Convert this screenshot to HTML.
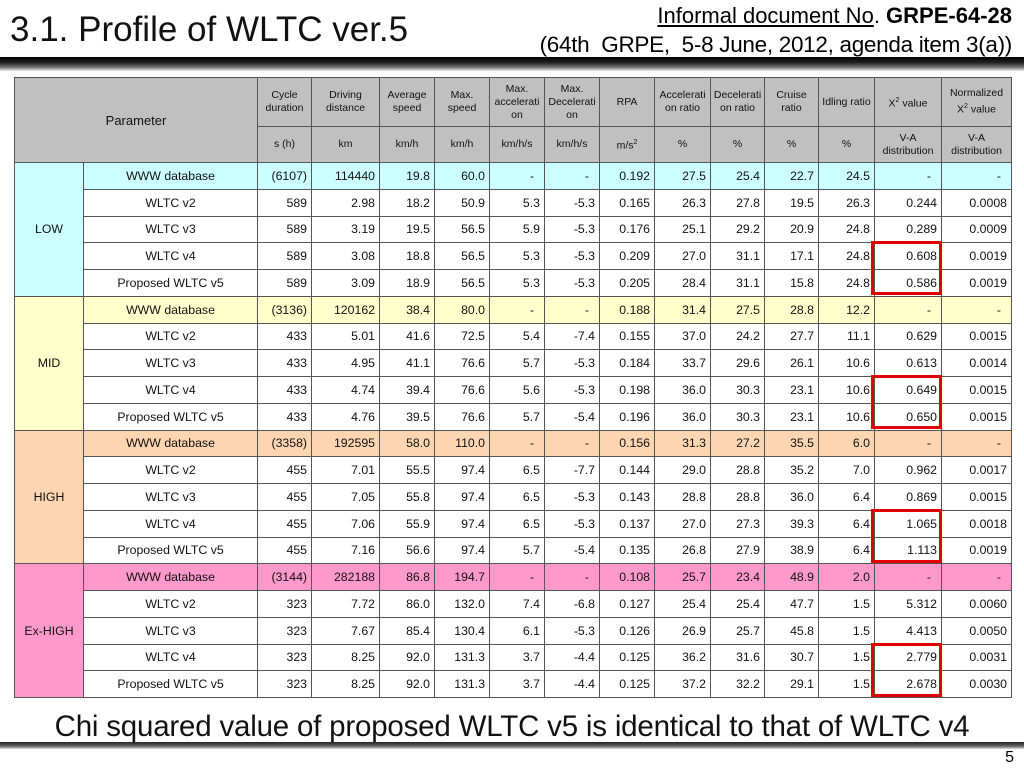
<!DOCTYPE html>
<html><head><meta charset="utf-8">
<style>
*{margin:0;padding:0;box-sizing:border-box}
body{width:1024px;height:768px;background:#fff;position:relative;overflow:hidden;font-family:"Liberation Sans",Arial,sans-serif}
#title{position:absolute;left:10px;top:10px;font-size:35px;color:#111;white-space:nowrap}
#doc1{position:absolute;right:12px;top:3px;font-size:22px;white-space:nowrap}
#doc2{position:absolute;right:12px;top:32px;font-size:22.5px;white-space:nowrap;letter-spacing:-0.3px}
#topbar{position:absolute;left:0;top:57px;width:1024px;height:14px;background:linear-gradient(#000 0%,#222 40%,#777 75%,#eee 100%)}
#botbar{position:absolute;left:0;top:742px;width:1024px;height:7px;background:linear-gradient(#222,#666 60%,#ddd)}
#caption{position:absolute;left:0;width:1024px;top:710px;text-align:center;font-size:29.5px;color:#111;white-space:nowrap;letter-spacing:-0.2px}
#pnum{position:absolute;right:10px;top:749px;font-size:16px}
table{position:absolute;left:14px;top:77px;border-collapse:collapse;table-layout:fixed;width:997px}
td{border:1px solid #555;font-size:12.3px;color:#111;text-align:right;padding:0 4px;white-space:nowrap;overflow:hidden}
thead td{background:#c0c0c0;text-align:center;font-size:10.5px;line-height:13px;padding:0 1px;white-space:normal}
td.nm{text-align:center}
td.cat{text-align:center;vertical-align:middle}
td.dash{padding-right:10px}
tbody tr{height:26.75px}
.red{position:absolute;border:3px solid #e00000;left:871px;width:71px;height:54px}
</style></head><body>
<div id="title">3.1. Profile of WLTC ver.5</div>
<div id="doc1"><u>Informal document No</u>. <b>GRPE-64-28</b></div>
<div id="doc2">(64th&nbsp; GRPE,&nbsp; 5-8 June, 2012, agenda item 3(a))</div>
<div id="topbar"></div>
<table>
<colgroup><col style="width:69px"><col style="width:174px"><col style="width:54px"><col style="width:68px"><col style="width:55px"><col style="width:55px"><col style="width:55px"><col style="width:55px"><col style="width:55px"><col style="width:56px"><col style="width:54px"><col style="width:54px"><col style="width:56px"><col style="width:67px"><col style="width:70px"></colgroup>
<thead>
<tr style="height:49px"><td colspan="2" rowspan="2" style="font-size:13px">Parameter</td><td>Cycle duration</td><td>Driving distance</td><td>Average speed</td><td>Max. speed</td><td>Max. accelerati on</td><td>Max. Decelerati on</td><td>RPA</td><td>Accelerati on ratio</td><td>Decelerati on ratio</td><td>Cruise ratio</td><td>Idling ratio</td><td>X<sup style="font-size:7px">2</sup> value</td><td>Normalized<br>X<sup style="font-size:7px">2</sup> value</td></tr>
<tr style="height:36px"><td>s (h)</td><td>km</td><td>km/h</td><td>km/h</td><td>km/h/s</td><td>km/h/s</td><td>m/s<sup style="font-size:7px">2</sup></td><td>%</td><td>%</td><td>%</td><td>%</td><td>V-A distribution</td><td>V-A distribution</td></tr>
</thead>
<tbody id="tb"></tbody>
</table>
<div id="caption">Chi squared value of proposed WLTC v5 is identical to that of WLTC v4</div>
<div id="botbar"></div>
<div id="pnum">5</div>
<script>
const groups=["LOW","MID","HIGH","Ex-HIGH"];
const groupColors=["#ccffff","#ffffcc","#fdd5b1","#ff99cc"];
const rowNames=["WWW database","WLTC v2","WLTC v3","WLTC v4","Proposed WLTC v5"];
const lowRows=[
["(6107)","114440","19.8","60.0","-","-","0.192","27.5","25.4","22.7","24.5","-","-"],
["589","2.98","18.2","50.9","5.3","-5.3","0.165","26.3","27.8","19.5","26.3","0.244","0.0008"],
["589","3.19","19.5","56.5","5.9","-5.3","0.176","25.1","29.2","20.9","24.8","0.289","0.0009"],
["589","3.08","18.8","56.5","5.3","-5.3","0.209","27.0","31.1","17.1","24.8","0.608","0.0019"],
["589","3.09","18.9","56.5","5.3","-5.3","0.205","28.4","31.1","15.8","24.8","0.586","0.0019"]];
const midRows=[
["(3136)","120162","38.4","80.0","-","-","0.188","31.4","27.5","28.8","12.2","-","-"],
["433","5.01","41.6","72.5","5.4","-7.4","0.155","37.0","24.2","27.7","11.1","0.629","0.0015"],
["433","4.95","41.1","76.6","5.7","-5.3","0.184","33.7","29.6","26.1","10.6","0.613","0.0014"],
["433","4.74","39.4","76.6","5.6","-5.3","0.198","36.0","30.3","23.1","10.6","0.649","0.0015"],
["433","4.76","39.5","76.6","5.7","-5.4","0.196","36.0","30.3","23.1","10.6","0.650","0.0015"]];
const highRows=[
["(3358)","192595","58.0","110.0","-","-","0.156","31.3","27.2","35.5","6.0","-","-"],
["455","7.01","55.5","97.4","6.5","-7.7","0.144","29.0","28.8","35.2","7.0","0.962","0.0017"],
["455","7.05","55.8","97.4","6.5","-5.3","0.143","28.8","28.8","36.0","6.4","0.869","0.0015"],
["455","7.06","55.9","97.4","6.5","-5.3","0.137","27.0","27.3","39.3","6.4","1.065","0.0018"],
["455","7.16","56.6","97.4","5.7","-5.4","0.135","26.8","27.9","38.9","6.4","1.113","0.0019"]];
const exhighRows=[
["(3144)","282188","86.8","194.7","-","-","0.108","25.7","23.4","48.9","2.0","-","-"],
["323","7.72","86.0","132.0","7.4","-6.8","0.127","25.4","25.4","47.7","1.5","5.312","0.0060"],
["323","7.67","85.4","130.4","6.1","-5.3","0.126","26.9","25.7","45.8","1.5","4.413","0.0050"],
["323","8.25","92.0","131.3","3.7","-4.4","0.125","36.2","31.6","30.7","1.5","2.779","0.0031"],
["323","8.25","92.0","131.3","3.7","-4.4","0.125","37.2","32.2","29.1","1.5","2.678","0.0030"]];
const allRows=[lowRows,midRows,highRows,exhighRows];
const tb=document.getElementById('tb');
const rowH=26.75, bodyTop=162;
allRows.forEach((rows,g)=>{
  rows.forEach((vals,r)=>{
    const tr=document.createElement('tr');
    
    
    if(r===0){
      const c=document.createElement('td');
      c.rowSpan=5;c.className='cat';c.textContent=groups[g];
      c.style.background=groupColors[g];
      
      
      tr.appendChild(c);
    }
    const n=document.createElement('td');
    n.className='nm';n.textContent=rowNames[r];
    
    
    if(r===0)n.style.background=groupColors[g];
    tr.appendChild(n);
    vals.forEach(v=>{
      const c=document.createElement('td');
      c.textContent=v;
      if(v==='-')c.className='dash';
      
      
      if(r===0)c.style.background=groupColors[g];
      tr.appendChild(c);
    });
    tb.appendChild(tr);
  });
  const box=document.createElement('div');
  box.className='red';
  
  
  box.style.top=(bodyTop+(g*5+3)*rowH-1)+'px';
  document.body.appendChild(box);
});
</script>
</body></html>
